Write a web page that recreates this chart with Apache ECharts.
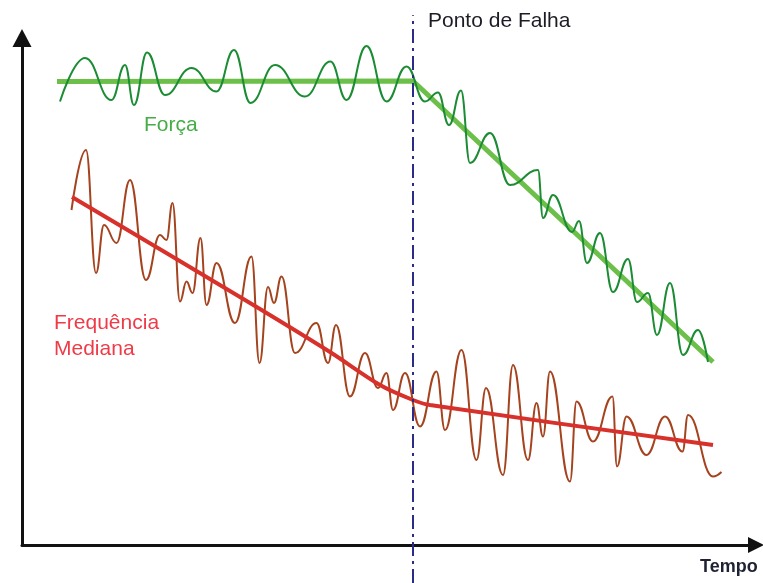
<!DOCTYPE html>
<html>
<head>
<meta charset="utf-8">
<script src="https://cdn.jsdelivr.net/npm/echarts@6/dist/echarts.min.js"></script>
<style>
html,body{margin:0;padding:0;background:#fff;}
#chart{width:763px;height:583px;}
</style>
</head>
<body>
<div id="chart"></div>
<script>
// Time axis: 0..146.8 units; amplitude axis: 0..101.4 units
var forcaSignal = [
  [7.6,88.7],[12.6,97.4],[17.9,89.0],[20.6,96.0],[22.4,88.0],[25.0,98.5],[28.6,90.0],
  [33.9,95.4],[38.9,90.7],[42.4,99.0],[45.7,88.4],[50.6,96.0],[56.6,89.7],[61.7,96.7],
  [64.9,89.0],[68.9,99.8],[72.9,88.7],[76.9,95.7],[80.6,88.7],[83.2,90.5],
  [85.4,84.0],[87.8,90.9],[89.6,76.4],[93.6,82.4],[97.6,72.0],[103.2,75.0],[104.2,65.4],
  [106.2,70.0],[110.0,62.6],[111.4,64.8],[113.0,56.4],[115.6,62.4],[118.2,50.6],[121.2,57.2],
  [123.0,48.6],[125.2,50.4],[127.0,42.0],[129.6,52.4],[132.2,38.0],[135.2,43.0],[137.2,36.6]
];
var forcaTrend = [[7.0,92.7],[78.2,92.8],[138.2,36.6]];

var freqSignal = [
  [9.9,67.0],[12.8,79.0],[14.8,54.4],[16.4,64.0],[18.9,60.4],[21.6,73.0],[24.8,53.0],
  [27.6,62.0],[28.9,61.0],[30.1,68.4],[31.6,48.7],[32.9,52.7],[34.1,50.4],[35.7,61.4],
  [36.9,48.0],[38.9,56.4],[42.6,44.4],[45.9,57.7],[47.5,36.4],[49.2,51.6],[50.4,48.4],
  [51.9,53.7],[54.6,38.4],[58.9,44.4],[61.2,36.4],[62.8,44.0],[65.6,29.7],[68.6,38.4],
  [71.2,31.4],[72.9,34.4],[74.2,27.0],[76.6,34.4],[79.6,23.7],[82.9,34.7],[84.6,23.0],
  [87.9,39.0],[90.9,17.0],[92.8,31.4],[96.2,14.0],[98.2,36.0],[101.2,17.0],[102.9,28.4],
  [104.2,21.7],[105.6,34.7],[109.6,12.7],[110.9,28.7],[114.2,20.7],[118.1,29.7],[119.0,15.7],
  [120.9,25.7],[124.9,18.0],[128.6,25.7],[132.1,18.7],[133.2,26.0],[138.2,13.7],[139.9,14.6]
];
var freqTrend = [[10.0,69.6],[44.6,49.0],[61.6,38.6],[71.6,32.0],[78.2,29.0],[81.6,28.0],[138.2,20.0]];

var failureTime = 78.2;
var failureLine = [[failureTime,0],[failureTime,0.974]];

var labels = {
  failure: 'Ponto de Falha',
  force: 'Força',
  freq1: 'Frequência',
  freq2: 'Mediana',
  time: 'Tempo'
};

var chart = echarts.init(document.getElementById('chart'));
var font = 'Liberation Sans, Arial, sans-serif';
chart.setOption({
  animation: false,
  grid: [
    {left: 22, top: 38, width: 734, height: 507},
    {left: 22, top: 0, width: 734, height: 583}
  ],
  xAxis: [
    {gridIndex: 0, type: 'value', min: 0, max: 146.8,
     axisLine: {show: true, symbol: ['none','triangle'], symbolSize: [16,16], lineStyle: {color: '#111', width: 3}},
     axisTick: {show: false}, axisLabel: {show: false}, splitLine: {show: false}},
    {gridIndex: 1, type: 'value', min: 0, max: 146.8, show: false}
  ],
  yAxis: [
    {gridIndex: 0, type: 'value', min: 0, max: 101.4,
     axisLine: {show: true, symbol: ['none','triangle'], symbolSize: [19,18], lineStyle: {color: '#111', width: 3}},
     axisTick: {show: false}, axisLabel: {show: false}, splitLine: {show: false}},
    {gridIndex: 1, type: 'value', min: 0, max: 1, show: false}
  ],
  series: [
    {type: 'line', data: forcaTrend, showSymbol: false, z: 2,
     lineStyle: {color: '#6cc04a', width: 5}},
    {type: 'line', data: forcaSignal, showSymbol: false, smooth: 0.45, smoothMonotone: 'x', z: 3,
     lineStyle: {color: '#1c8c34', width: 2}},
    {type: 'line', data: freqSignal, showSymbol: false, smooth: 0.45, smoothMonotone: 'x', z: 3,
     lineStyle: {color: '#a5431f', width: 2}},
    {type: 'line', data: freqTrend, showSymbol: false, smooth: 0.3, z: 4,
     lineStyle: {color: '#d8302a', width: 4}},
    {type: 'line', xAxisIndex: 1, yAxisIndex: 1, data: failureLine, showSymbol: false, z: 10,
     lineStyle: {color: '#2b2b88', width: 2, type: [14,5,3,5]}}
  ],
  graphic: [
    {type: 'text', left: 428, top: 11, z: 20, style: {text: labels.failure, font: '21px ' + font, fill: '#1c1c24'}},
    {type: 'text', left: 144, top: 115, z: 20, style: {text: labels.force, font: '21px ' + font, fill: '#45ad45'}},
    {type: 'text', left: 54, top: 310, z: 20, style: {text: labels.freq1 + '\n' + labels.freq2, font: '21px ' + font, fill: '#ef3a48', lineHeight: 26}},
    {type: 'text', left: 700, top: 558, z: 20, style: {text: labels.time, font: 'bold 18px ' + font, fill: '#1f2233'}}
  ]
});
</script>
</body>
</html>
